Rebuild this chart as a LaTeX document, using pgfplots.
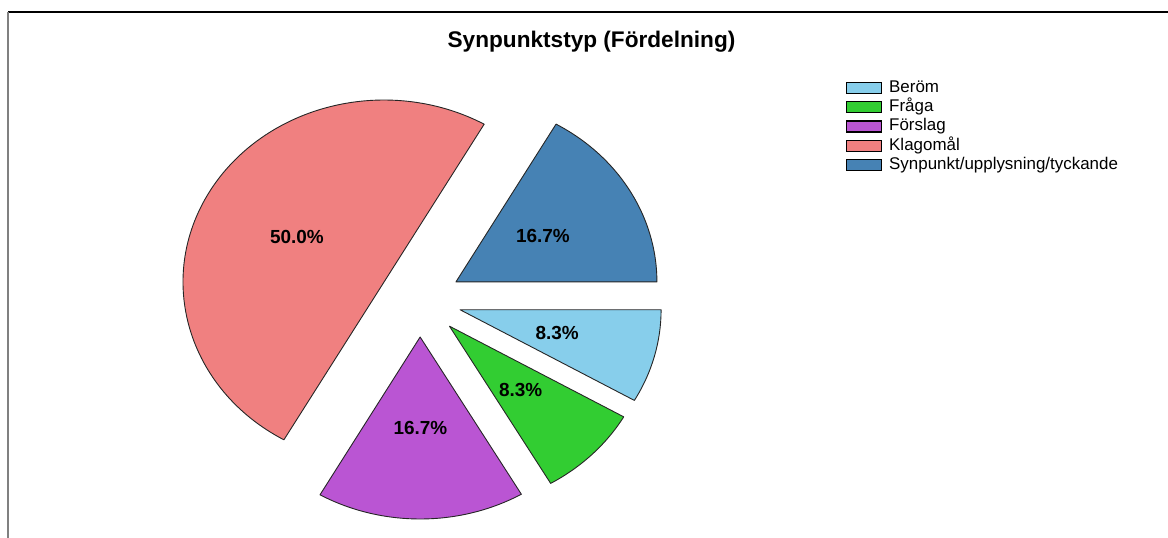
\documentclass[border=0pt]{standalone}
\usepackage{pgfplots}
\usepackage{pgfplotstable}
\pgfplotsset{compat=1.18}
\usepackage{fontspec}
\setmainfont{Liberation Sans}
\definecolor{pie0}{HTML}{87CEEB}
\definecolor{pie1}{HTML}{32CD32}
\definecolor{pie2}{HTML}{BA55D3}
\definecolor{pie3}{HTML}{F08080}
\definecolor{pie4}{HTML}{4682B4}

\pgfplotstableread[col sep=comma]{
label,value
Beröm,8.3
Fråga,8.3
Förslag,16.7
Klagomål,50.0
Synpunkt/upplysning/tyckande,16.7
}\piedata

% pie geometry (in px = bp)
\def\pieCX{420}\def\pieCY{237.7}
\def\pieRX{201}\def\pieRY{182}
\def\pieEX{41.5}\def\pieEY{36.7}

\pgfplotsset{pielegend/.style={legend image code/.code={%
  \draw[##1, line width=1.2bp] (0bp,-5.5bp) rectangle (35bp,5.5bp);}}}

\begin{document}
\xdef\cum{0}%
\pgfplotsforeachungrouped \i in {0,...,4}{%
  \pgfplotstablegetelem{\i}{value}\of\piedata
  \xdef\pieval{\pgfplotsretval}%
  \pgfmathsetmacro\pieA{-3.6*\cum}%
  \pgfmathsetmacro\pieB{-3.6*(\cum+\pieval)}%
  \pgfmathsetmacro\pieM{(\pieA+\pieB)/2}%
  \pgfmathsetmacro\pieAX{\pieCX+\pieEX*cos(\pieM)}%
  \pgfmathsetmacro\pieAY{\pieCY+\pieEY*sin(\pieM)}%
  \pgfmathsetmacro\pieBX{\pieAX+\pieRX*cos(\pieA)}%
  \pgfmathsetmacro\pieBY{\pieAY+\pieRY*sin(\pieA)}%
  \pgfmathsetmacro\pieLX{\pieAX+0.5*\pieRX*cos(\pieM)}%
  \pgfmathsetmacro\pieLY{\pieAY+0.5*\pieRY*sin(\pieM)}%
  \expandafter\xdef\csname sA\i\endcsname{\pieA}%
  \expandafter\xdef\csname sB\i\endcsname{\pieB}%
  \expandafter\xdef\csname pax\i\endcsname{\pieAX}%
  \expandafter\xdef\csname pay\i\endcsname{\pieAY}%
  \expandafter\xdef\csname pbx\i\endcsname{\pieBX}%
  \expandafter\xdef\csname pby\i\endcsname{\pieBY}%
  \expandafter\xdef\csname plx\i\endcsname{\pieLX}%
  \expandafter\xdef\csname ply\i\endcsname{\pieLY}%
  \expandafter\xdef\csname pct\i\endcsname{\pieval}%
  \pgfmathsetmacro\newcum{\cum+\pieval}%
  \xdef\cum{\newcum}%
}%
\begin{tikzpicture}
\begin{axis}[
  scale only axis, width=1168bp, height=538bp,
  xmin=0, xmax=1168, ymin=0, ymax=538,
  hide axis, clip=false,
  legend cell align=left,
  legend style={at={(0.7243,0.8513)}, anchor=north west, draw=none, fill=none,
    inner sep=0pt, outer sep=0pt, font=\fontsize{17}{19}\selectfont,
    row sep=3.4bp, column sep=7bp,
    nodes={inner sep=0pt, text height=12.2bp, text depth=3.7bp}},
]
\addlegendimage{pielegend, fill=pie0, draw=black}
\addlegendentry{Beröm}
\addlegendimage{pielegend, fill=pie1, draw=black}
\addlegendentry{Fråga}
\addlegendimage{pielegend, fill=pie2, draw=black}
\addlegendentry{Förslag}
\addlegendimage{pielegend, fill=pie3, draw=black}
\addlegendentry{Klagomål}
\addlegendimage{pielegend, fill=pie4, draw=black}
\addlegendentry{Synpunkt/upplysning/tyckande}

\pgfplotsinvokeforeach{0,...,4}{%
  \filldraw[fill=pie#1, draw=black!85, line width=0.9bp, line join=round]
    (axis cs:\csname pax#1\endcsname,\csname pay#1\endcsname) --
    (axis cs:\csname pbx#1\endcsname,\csname pby#1\endcsname)
    arc[start angle=\csname sA#1\endcsname, end angle=\csname sB#1\endcsname,
        x radius=\pieRX bp, y radius=\pieRY bp] -- cycle;
  \node[font=\bfseries\fontsize{19}{21}\selectfont, inner sep=0pt]
    at (axis cs:\csname plx#1\endcsname,\csname ply#1\endcsname)
    {\csname pct#1\endcsname\%};
}

\node[font=\bfseries\fontsize{22.7}{26}\selectfont, anchor=base]
  at (axis cs:591.5,490) {Synpunktstyp (Fördelning)};
\draw[black, line width=1.5bp] (axis cs:8,526) -- (axis cs:1168,526);
\draw[gray, line width=1.5bp] (axis cs:8,526) -- (axis cs:8,0);
\end{axis}
\pgfresetboundingbox
\useasboundingbox (0,0) rectangle (1168bp,538bp);
\end{tikzpicture}
\end{document}
